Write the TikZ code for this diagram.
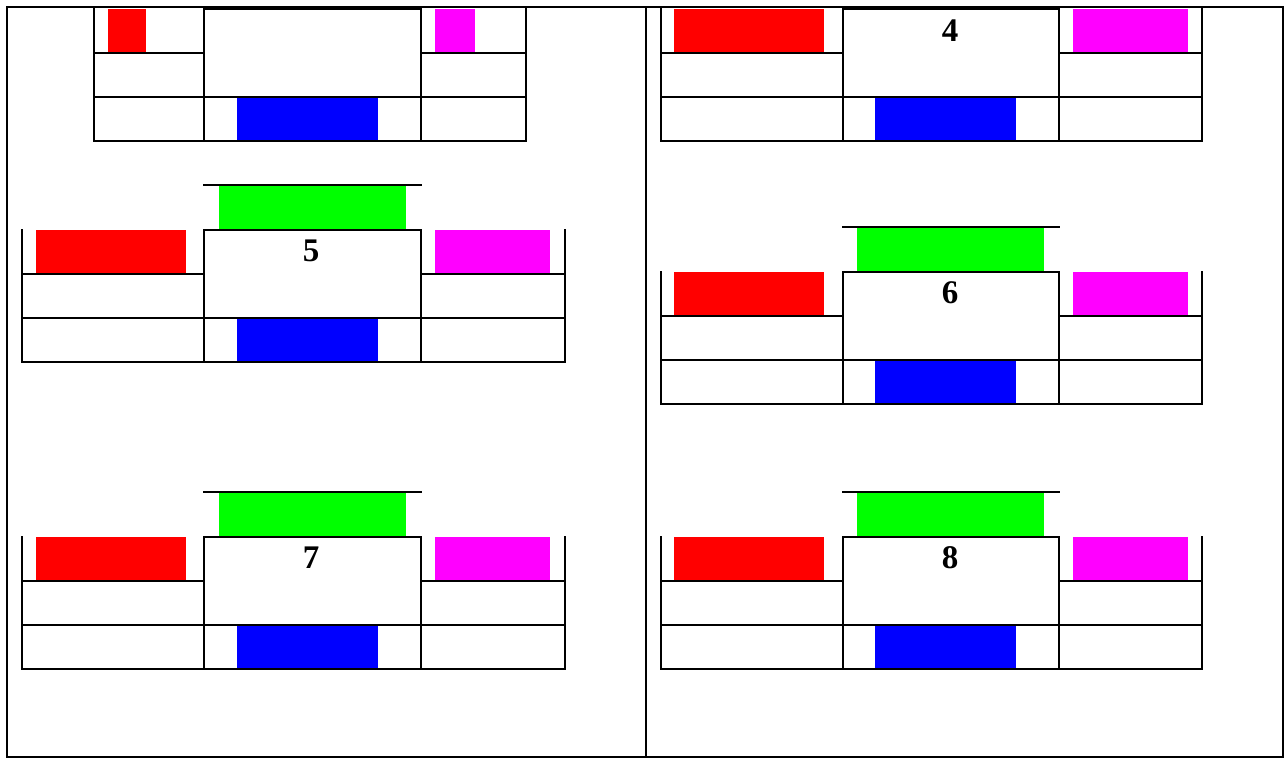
\documentclass[tikz,border=0pt]{standalone}
\usepackage{fontspec}
\setmainfont{Liberation Serif}
\definecolor{cred}{RGB}{255,0,0}
\definecolor{cmag}{RGB}{255,0,255}
\definecolor{cblue}{RGB}{0,0,255}
\definecolor{cgreen}{RGB}{0,255,0}
\newcommand{\fullpanel}[5]{%
  % #1 = left x, #2 = box top y, #3 = label, #4 = name, #5 = small x shift of the right part
  \begin{scope}[shift={(#1,#2)}]
    \fill[cgreen] (197+#5,-45) rectangle (384+#5,0);
    \fill[cred] (14+#5,0) rectangle (164+#5,44);
    \fill[cmag] (413+#5,0) rectangle (528+#5,44);
    \fill[cblue] (215+#5,88) rectangle (356+#5,132);
    \draw[ln] (182,-45) -- (399+#5,-45);
    \draw[ln] (0,0) -- (0,132) -- (543+2*#5,132) -- (543+2*#5,0);
    \draw[ln] (182,0) rectangle (399+#5,88);
    \draw[ln] (0,44) -- (182,44) (399+#5,44) -- (543+2*#5,44);
    \draw[ln] (0,88) -- (543+2*#5,88);
    \draw[ln] (182,88) -- (182,132) (399+#5,88) -- (399+#5,132);
    \node[num] (#4) at (289,31) {#3};
  \end{scope}}
\begin{document}
\begin{tikzpicture}[x=1pt,y=-1pt,
  ln/.style={line width=1.6pt,line cap=rect},
  num/.style={anchor=base,inner sep=0pt,font=\fontsize{33}{36}\selectfont\bfseries}]
\useasboundingbox (0,0) rectangle (1288,765);
% outer frame
\draw[ln] (7,7) rectangle (1283,757);
\draw[ln] (646,7) -- (646,757);
% top-left partial panel
\fill[cred] (108,9) rectangle (146,53);
\fill[cmag] (435,9) rectangle (475,53);
\fill[cblue] (237,97) rectangle (378,141);
\draw[ln] (94,9) -- (94,141) -- (526,141) -- (526,9);
\draw[ln] (204,9) rectangle (421,97);
\draw[ln] (94,53) -- (204,53) (421,53) -- (526,53);
\draw[ln] (94,97) -- (526,97);
\draw[ln] (204,97) -- (204,141) (421,97) -- (421,141);
% panel 4 (no green)
\begin{scope}[shift={(661,9)}]
  \fill[cred] (13,0) rectangle (163,44);
  \fill[cmag] (412,0) rectangle (527,44);
  \fill[cblue] (214,88) rectangle (355,132);
  \draw[ln] (0,0) -- (0,132) -- (541,132) -- (541,0);
  \draw[ln] (182,0) rectangle (398,88);
  \draw[ln] (0,44) -- (182,44) (398,44) -- (541,44);
  \draw[ln] (0,88) -- (541,88);
  \draw[ln] (182,88) -- (182,132) (398,88) -- (398,132);
  \node[num] (n4) at (289,33) {4};
\end{scope}
\fullpanel{22}{230}{5}{n5}{0}
\fullpanel{661}{272}{6}{n6}{-1}
\fullpanel{22}{537}{7}{n7}{0}
\fullpanel{661}{537}{8}{n8}{-1}
\end{tikzpicture}
\end{document}
